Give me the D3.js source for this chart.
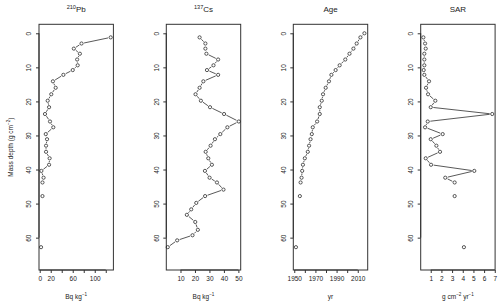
<!DOCTYPE html>
<html><head><meta charset="utf-8">
<script src="https://cdn.jsdelivr.net/npm/d3@7"></script>
<style>
html,body{margin:0;padding:0;background:#fff;}
svg{display:block;font-family:"Liberation Sans",Arial,Helvetica,sans-serif;}
</style></head>
<body>
<svg id="chart" width="500" height="305"></svg>
<script>
// ---- data ----
const depth = [0,1.2,3.0,4.5,6.0,7.7,9.4,10.8,12.2,14.1,16.0,17.9,19.8,21.7,23.7,25.9,27.6,29.6,31.1,33.0,34.8,36.7,38.6,40.4,42.4,43.8,45.9,47.8,49.8,51.7,53.3,55.4,57.7,59.3,60.8,62.8];
const pb210 = [null,129,76,62,73,68,69,60,43,24,29,21,14.5,17,9.6,18.7,24.7,11,13.3,11.5,11.5,18,17,3,7,5,null,5,null,null,null,null,null,null,null,2.4];
const cs137 = [null,23.2,27.2,27.2,27.9,36,32.8,28.3,36,25.8,23.2,20.4,24.1,30.4,40.1,50.3,42.4,37.5,33.8,30.8,27.4,29.2,31.7,26.9,30.1,35.2,39.7,27,20.9,17.4,14.4,20.2,22,18.3,7.7,1.2];
const age = [2016.3,2012.5,2009,2005.9,2002.2,1998.2,1992.9,1989.1,1985.1,1982.8,1979.7,1977.2,1976,1974.1,1974.1,1971.6,1967.5,1966.6,1965.4,1964,1962.8,1960,1958.2,1957.5,1956.9,1956,null,1955.3,null,null,null,null,null,null,null,1951.6];
const sar = [null,0.31,0.47,0.53,0.4,0.4,0.4,0.34,0.4,0.84,0.56,0.75,1.43,1.0,6.76,0.72,0.47,2.12,1.0,1.53,1.87,0.53,1.03,5.08,2.36,3.24,null,3.24,null,null,null,null,null,null,null,4.11];

const depthTicks = [0,10,20,30,40,50,60];
const pbTicks = [0,20,40,60,80,100,120];
const pbTickLabels = ["0","20","","60","","100",""];
const csTicks = [10,20,30,40,50];
const csTickLabels = ["10","20","30","40","50"];
const ageTicks = [1950,1960,1970,1980,1990,2000,2010];
const ageTickLabels = ["1950","","1970","","1990","","2010"];
const sarTicks = [1,2,3,4,5,6,7];
const sarTickLabels = ["1","2","3","4","5","6","7"];

// ---- layout ----
const svg = d3.select("#chart");
const plotTop = 24.3, plotBottom = 270, pw = 74.4;
const lefts = [39, 166.3, 293.3, 420.7];
const y = d3.scaleLinear().domain([-2.64, 69.5]).range([plotTop, plotBottom]);
const ink = "#222";

const panels = [
  {vals: pb210, domain: [-1.3, 133.9], ticks: pbTicks, labels: pbTickLabels, title: [["210", true], ["Pb", false]], xlab: [["Bq kg", false], ["\u22121", true]]},
  {vals: cs137, domain: [0.2, 51.6], ticks: csTicks, labels: csTickLabels, title: [["137", true], ["Cs", false]], xlab: [["Bq kg", false], ["\u22121", true]]},
  {vals: age, domain: [1949.1, 2019.4], ticks: ageTicks, labels: ageTickLabels, title: [["Age", false]], xlab: [["yr", false]]},
  {vals: sar, domain: [0.06, 7.03], ticks: sarTicks, labels: sarTickLabels, title: [["SAR", false]], xlab: [["g cm", false], ["\u22122", true], [" yr", false], ["\u22121", true]]}
];

function richText(sel, parts, size) {
  parts.forEach(([t, sup], i) => {
    const prevSup = i > 0 && parts[i-1][1];
    const ts = sel.append("tspan").text(t);
    if (sup) { ts.attr("font-size", size*0.7).attr("dy", prevSup ? 0 : -size*0.4); }
    else { ts.attr("font-size", size); if (prevSup) ts.attr("dy", size*0.4); }
  });
}

const gap = 2.6;
panels.forEach((p, k) => {
  const x0 = lefts[k];
  const x = d3.scaleLinear().domain(p.domain).range([x0, x0 + pw]);
  const g = svg.append("g");

  // frame
  g.append("rect").attr("x", x0).attr("y", plotTop).attr("width", pw).attr("height", plotBottom - plotTop)
    .attr("fill", "none").attr("stroke", "#333").attr("stroke-width", 1);

  // bottom axis
  const xa = d3.axisBottom(x).tickValues(p.ticks).tickSize(3).tickPadding(3)
    .tickFormat((d, i) => p.labels[i]);
  const gx = g.append("g").attr("transform", `translate(0,${plotBottom})`).call(xa);
  gx.select(".domain").attr("d", `M${x(p.ticks[0])},0H${x(p.ticks[p.ticks.length-1])}`).attr("stroke", "#333");
  gx.selectAll(".tick line").attr("stroke", "#333");
  gx.attr("font-family", null);
  gx.selectAll(".tick text").attr("font-size", 6.5).attr("fill", ink);

  // left axis
  const ya = d3.axisLeft(y).tickValues(depthTicks).tickSize(3).tickFormat(d3.format("d"));
  const gy = g.append("g").attr("transform", `translate(${x0},0)`).call(ya);
  gy.select(".domain").attr("d", `M0,${y(0)}V${y(60)}`).attr("stroke", "#333");
  gy.selectAll(".tick line").attr("stroke", "#333");
  gy.attr("font-family", null);
  gy.selectAll(".tick text").attr("font-size", 6.5).attr("fill", ink)
    .attr("x", null).attr("dy", null).attr("text-anchor", "middle")
    .attr("transform", "translate(-7.8,0) rotate(-90)");

  // title
  const tt = g.append("text").attr("x", x0 + pw/2).attr("y", 12).attr("text-anchor", "middle").attr("fill", ink);
  richText(tt, p.title, 8);
  // x label
  const xl = g.append("text").attr("x", x0 + pw/2).attr("y", 299).attr("text-anchor", "middle").attr("fill", ink);
  richText(xl, p.xlab, 6.5);

  // data points
  const pts = depth.map((d, i) => ({d, v: p.vals[i]}));
  // line segments with gaps (R type "b")
  for (let i = 0; i < pts.length - 1; i++) {
    const a = pts[i], b = pts[i+1];
    if (a.v == null || b.v == null) continue;
    const ax = x(a.v), ay = y(a.d), bx = x(b.v), by = y(b.d);
    const L = Math.hypot(bx - ax, by - ay);
    if (L <= 2*gap) continue;
    const ux = (bx - ax)/L, uy = (by - ay)/L;
    g.append("line").attr("x1", ax + ux*gap).attr("y1", ay + uy*gap)
      .attr("x2", bx - ux*gap).attr("y2", by - uy*gap)
      .attr("stroke", ink).attr("stroke-width", 0.75);
  }
  g.selectAll("circle.pt").data(pts.filter(q => q.v != null)).join("circle")
    .attr("class", "pt").attr("cx", q => x(q.v)).attr("cy", q => y(q.d)).attr("r", 1.6)
    .attr("fill", "none").attr("stroke", ink).attr("stroke-width", 0.75);
});

// y-axis title
const yt = svg.append("text").attr("transform", `translate(12.5,${(plotTop+plotBottom)/2}) rotate(-90)`)
  .attr("text-anchor", "middle").attr("fill", ink);
richText(yt, [["Mass depth (g cm", false], ["\u22122", true], [")", false]], 6.5);
</script>
</body></html>
